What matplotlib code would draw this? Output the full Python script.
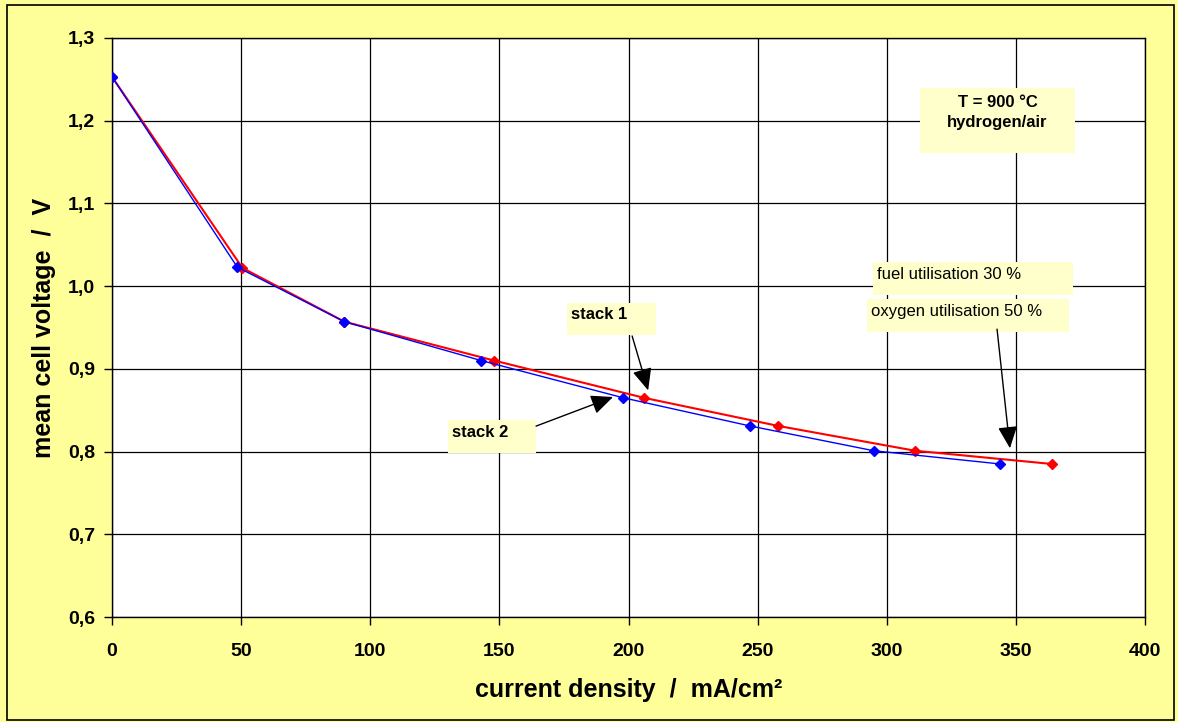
# Polarisation curves of two SOFC stacks (mean cell voltage vs current density)

import matplotlib
matplotlib.use('Agg')
import matplotlib.pyplot as plt
from matplotlib.patches import Rectangle

plt.rcParams['font.family'] = ['Liberation Sans', 'DejaVu Sans']

# Data
stack1_current = [0, 50.5, 90, 148, 206, 258, 311, 364]          # mA/cm2
stack1_voltage = [1.253, 1.022, 0.957, 0.910, 0.865, 0.831, 0.801, 0.785]
stack2_current = [0, 48.5, 90, 143, 198, 247, 295, 344]
stack2_voltage = [1.253, 1.023, 0.957, 0.910, 0.865, 0.831, 0.801, 0.785]

x_ticks = [0, 50, 100, 150, 200, 250, 300, 350, 400]
y_ticks = [0.6, 0.7, 0.8, 0.9, 1.0, 1.1, 1.2, 1.3]
y_ticklabels = ['0,6', '0,7', '0,8', '0,9', '1,0', '1,1', '1,2', '1,3']

BG = '#FFFF99'      # figure background
BOX = '#FFFFCC'     # label boxes

fig = plt.figure(figsize=(11.78, 7.22), dpi=100, facecolor=BG)
ax = fig.add_axes([0.0951, 0.1454, 0.8769, 0.802])
ax.set_facecolor('white')

# outer frame of the chart
fig.patches.append(Rectangle((0.006, 0.003), 0.991, 0.99, transform=fig.transFigure,
                             fill=False, edgecolor='black', lw=1.2))

ax.plot(stack1_current, stack1_voltage, color='red', lw=1.5, marker='D', ms=5, zorder=4)
ax.plot(stack2_current, stack2_voltage, color='blue', lw=1.0, marker='D', ms=5, zorder=5)

ax.set_xlim(0, 400)
ax.set_ylim(0.6, 1.3)
ax.set_xticks(x_ticks)
ax.set_yticks(y_ticks)
ax.set_yticklabels(y_ticklabels)
ax.grid(True, color='black', lw=0.9, zorder=0)
ax.set_axisbelow(True)
ax.tick_params(direction='out', length=6, width=1, labelsize=14)
ax.tick_params(axis='y', pad=6)
ax.tick_params(axis='x', pad=13)
for lab in ax.get_xticklabels() + ax.get_yticklabels():
    lab.set_fontweight('bold')
for s in ax.spines.values():
    s.set_color('black')
    s.set_linewidth(1)

ax.set_xlabel('current density  /  mA/cm²', fontsize=18, fontweight='bold', labelpad=13)
ax.set_ylabel('mean cell voltage  /  V', fontsize=18, fontweight='bold', labelpad=9)


# text boxes (data coords of the box corners)
def box(x0, x1, y0, y1, text, bold=False, center=False):
    ax.add_patch(Rectangle((x0, y0), x1 - x0, y1 - y0, facecolor=BOX,
                           edgecolor='none', zorder=6))
    if center:
        ax.text((x0 + x1) / 2, (y0 + y1) / 2 + 0.01, text, ha='center', va='center',
                fontsize=12, fontweight='bold' if bold else 'normal',
                linespacing=1.45, zorder=7)
    else:
        ax.text(x0 + 1.5, (y0 + y1) / 2 + 0.005, text, ha='left', va='center',
                fontsize=12, fontweight='bold' if bold else 'normal', zorder=7)


box(312.9, 372.9, 1.161, 1.2395, 'T = 900 °C\nhydrogen/air', bold=True, center=True)
box(294.7, 372.1, 0.9892, 1.0291, 'fuel utilisation 30 %')
box(292.4, 370.6, 0.9445, 0.9844, 'oxygen utilisation 50 %')
box(176.2, 210.6, 0.9409, 0.9796, 'stack 1', bold=True)
box(130.1, 164.2, 0.7982, 0.8381, 'stack 2', bold=True)

arrow = dict(arrowstyle='-|>,head_length=0.9,head_width=0.4', mutation_scale=15,
             color='black', lw=1, shrinkA=0, shrinkB=0)
ax.annotate('', xy=(207.6, 0.874), xytext=(201.4, 0.9397), arrowprops=arrow, zorder=8)
ax.annotate('', xy=(194.0, 0.866), xytext=(164.2, 0.8308), arrowprops=arrow, zorder=8)
ax.annotate('', xy=(347.7, 0.804), xytext=(342.7, 0.948), arrowprops=arrow, zorder=8)

plt.savefig('out.png', dpi=100, facecolor=BG)
